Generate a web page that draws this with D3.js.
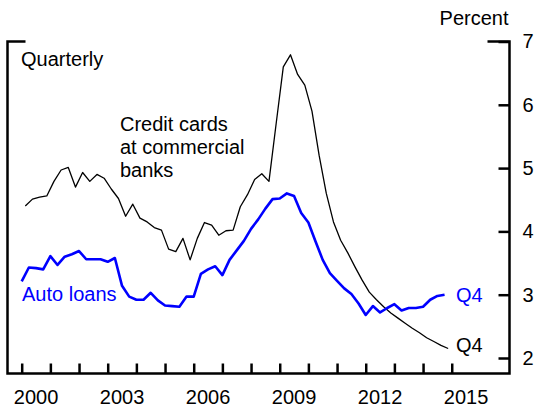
<!DOCTYPE html>
<html>
<head>
<meta charset="utf-8">
<script src="https://cdn.jsdelivr.net/npm/d3@7"></script>
<style>
  body { margin: 0; background: #fff; }
  svg { display: block; font-family: "Liberation Sans", Arial, sans-serif; }
</style>
</head>
<body>
<svg id="chart" width="548" height="409"></svg>
<script>
const YEARS = d3.range(2000, 2015);
const QUARTERS = ['Q1', 'Q2', 'Q3', 'Q4'];
const YEAR_TICKS = d3.range(2000, 2016);
const YEAR_LABELS = [2000, 2003, 2006, 2009, 2012, 2015];
const PCT_TICKS = [2, 3, 4, 5, 6, 7];

// percent, 2000Q1 .. 2014Q4
const creditCards = [
  4.40, 4.51, 4.54, 4.56, 4.79, 4.97, 5.01, 4.70,
  4.93, 4.79, 4.90, 4.84, 4.67, 4.52, 4.24, 4.43,
  4.21, 4.15, 4.06, 4.02, 3.72, 3.68, 3.89, 3.55,
  3.89, 4.14, 4.10, 3.94, 4.01, 4.02, 4.39, 4.58,
  4.82, 4.91, 4.79, 5.70, 6.60, 6.79, 6.48, 6.31,
  5.90, 5.20, 4.60, 4.15, 3.86, 3.66, 3.44, 3.23,
  3.04, 2.92, 2.81, 2.71, 2.63, 2.55, 2.47, 2.40,
  2.32, 2.26, 2.20, 2.15
];
const autoLoans = [
  3.21, 3.43, 3.42, 3.40, 3.61, 3.47, 3.60, 3.64,
  3.69, 3.56, 3.56, 3.56, 3.52, 3.58, 3.14, 2.97,
  2.92, 2.92, 3.03, 2.91, 2.83, 2.82, 2.81, 2.97,
  2.97, 3.33, 3.40, 3.45, 3.31, 3.55, 3.70, 3.85,
  4.04, 4.19, 4.36, 4.51, 4.52, 4.60, 4.56, 4.29,
  4.14, 3.84, 3.55, 3.34, 3.22, 3.10, 3.01, 2.86,
  2.68, 2.82, 2.72, 2.79, 2.85, 2.75, 2.79, 2.79,
  2.81, 2.92, 2.98, 3.00
];

const quarterList = [];
YEARS.forEach(y => QUARTERS.forEach((q, k) => quarterList.push({ year: y, q: k })));

const svg = d3.select('#chart');
const FRAME_LEFT = 7.5, FRAME_RIGHT = 509.5, FRAME_TOP = 41.5, FRAME_BOTTOM = 373.5;

const x = d3.scaleLinear().domain([2000, 2016]).range([21.7, 480.4]);
const y = d3.scaleLinear().domain([2, 7]).range([358, 41.5]);

// frame: left bracket, bottom axis, right axis
svg.append('path')
  .attr('d', `M${FRAME_LEFT + 18},${FRAME_TOP}H${FRAME_LEFT}V${FRAME_BOTTOM}H${FRAME_RIGHT}V${FRAME_TOP}H${FRAME_RIGHT - 22}`)
  .attr('fill', 'none')
  .attr('stroke', '#000')
  .attr('stroke-width', 2.5);

// x axis: year ticks pointing up, labels centred on each year
const xAxis = svg.append('g')
  .attr('transform', `translate(0,${FRAME_BOTTOM})`)
  .call(d3.axisTop(x).tickValues(YEAR_TICKS).tickSize(10).tickFormat(''));
xAxis.select('.domain').remove();
xAxis.selectAll('.tick line').attr('stroke', '#000').attr('stroke-width', 2.5);

svg.append('g').selectAll('text')
  .data(YEAR_LABELS)
  .join('text')
  .attr('x', d => x(d + 0.5))
  .attr('y', 403.5)
  .attr('text-anchor', 'middle')
  .attr('font-size', 20)
  .text(d => d);

// y axis on the right, ticks pointing in (top tick is part of the frame)
const yAxis = svg.append('g')
  .attr('transform', `translate(${FRAME_RIGHT},0)`)
  .call(d3.axisRight(y).tickValues(PCT_TICKS).tickSize(-11).tickPadding(13).tickFormat(d3.format('d')));
yAxis.select('.domain').remove();
yAxis.selectAll('.tick line').attr('stroke', '#000').attr('stroke-width', 2.5);
yAxis.selectAll('.tick text').attr('font-size', 20).attr('fill', '#000')
  .attr('font-family', '"Liberation Sans", Arial, sans-serif');

svg.append('text')
  .attr('x', 508.5)
  .attr('y', 25)
  .attr('text-anchor', 'end')
  .attr('font-size', 20)
  .text('Percent');

svg.append('text')
  .attr('x', 21)
  .attr('y', 66)
  .attr('font-size', 20)
  .text('Quarterly');

// lines
const ccLine = d3.line()
  .x((d, i) => x(quarterList[i].year + (quarterList[i].q + 0.5) / 4))
  .y(d => y(d));
const autoLine = d3.line()
  .x((d, i) => x(quarterList[i].year + quarterList[i].q / 4))
  .y(d => y(d));

svg.append('path')
  .datum(creditCards)
  .attr('d', ccLine)
  .attr('fill', 'none')
  .attr('stroke', '#000')
  .attr('stroke-width', 1.3)
  .attr('stroke-linejoin', 'round');

svg.append('path')
  .datum(autoLoans)
  .attr('d', autoLine)
  .attr('fill', 'none')
  .attr('stroke', '#0000ff')
  .attr('stroke-width', 2.6)
  .attr('stroke-linejoin', 'round');

// series labels
svg.append('text')
  .attr('font-size', 20)
  .selectAll('tspan')
  .data(['Credit cards', 'at commercial', 'banks'])
  .join('tspan')
  .attr('x', 120)
  .attr('y', (d, i) => 131 + i * 23)
  .text(d => d);

svg.append('text')
  .attr('x', 22)
  .attr('y', 301)
  .attr('font-size', 20)
  .attr('fill', '#0000ff')
  .text('Auto loans');

svg.append('text')
  .attr('x', 456)
  .attr('y', 301.5)
  .attr('font-size', 20)
  .attr('fill', '#0000ff')
  .text('Q4');

svg.append('text')
  .attr('x', 456)
  .attr('y', 352)
  .attr('font-size', 20)
  .attr('fill', '#000')
  .text('Q4');
</script>
</body>
</html>
